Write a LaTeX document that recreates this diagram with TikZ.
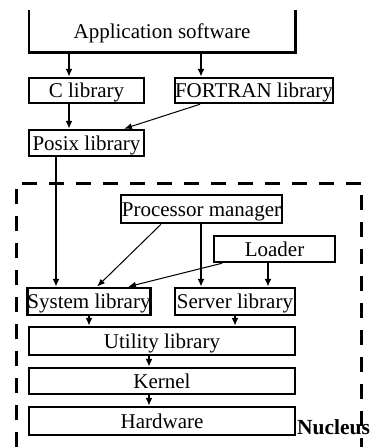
\documentclass[tikz,border=0pt]{standalone}
\usepackage{fontspec}
\setmainfont{Liberation Serif}
\usetikzlibrary{arrows.meta}
\begin{document}
\begin{tikzpicture}[x=1pt,y=-1pt,
  box/.style={draw,line width=2.5pt,inner sep=0pt,text height=14pt,text depth=0pt,
    font=\fontsize{21}{24}\selectfont},
  arr/.style={line width=2.3pt,-{Latex[length=8pt,width=7pt]}},
  thinarr/.style={line width=1pt,-{Latex[length=8pt,width=6pt]}},
  frame/.style={line width=3pt,dash pattern=on 15pt off 12pt}]
\useasboundingbox (0,0) rectangle (371,447);

% application layer (open at the top)
\node[box,draw=none,minimum width=264pt,minimum height=40pt] (app) at (162,31) {Application software};
\draw[line width=2.5pt] (app.north west) -- (app.south west) -- (app.south east) -- (app.north east);

% libraries above the nucleus
\node[box,minimum width=115pt,minimum height=25pt] (clib) at (86.5,90.5) {C library};
\node[box,minimum width=158pt,minimum height=25pt] (flib) at (254,90.5) {FORTRAN library};
\node[box,minimum width=115pt,minimum height=26pt] (posix) at (86.5,143) {Posix library};

% nucleus boundary
\draw[frame] (16,447) -- (16,183) -- (361,183) -- (361,447);
\node[anchor=base west,inner sep=0pt,font=\fontsize{21.5}{24}\selectfont\bfseries] (nucleus) at (297,434) {Nucleus};

% nucleus components
\node[box,minimum width=161pt,minimum height=28pt] (pm) at (201.5,209) {Processor manager};
\node[box,minimum width=121pt,minimum height=26pt] (loader) at (274.5,249) {Loader};
\node[box,minimum width=120pt,minimum height=27pt] (syslib) at (89,301.5) {System library};
\node[box,minimum width=120pt,minimum height=27pt] (srvlib) at (235,301.5) {Server library};
\node[box,minimum width=266pt,minimum height=28pt] (util) at (162,341) {Utility library};
\node[box,minimum width=266pt,minimum height=26pt] (kernel) at (162,381) {Kernel};
\node[box,minimum width=266pt,minimum height=28pt] (hw) at (162,421) {Hardware};

% connectors
\draw[arr] (app.south -| 69,0) -- (clib.north -| 69,0);
\draw[arr] (app.south -| 201,0) -- (flib.north -| 201,0);
\draw[arr] (clib.south -| 69,0) -- (posix.north -| 69,0);
\draw[thinarr] (flib.south -| 200,0) -- (posix.north -| 124,0);
\draw[arr] (posix.south -| 56,0) -- (syslib.north -| 56,0);
\draw[thinarr] (pm.south -| 161,0) -- (syslib.north -| 97,0);
\draw[arr] (pm.south -| 201,0) -- (srvlib.north -| 201,0);
\draw[thinarr] (loader.south -| 222,0) -- (syslib.north -| 128,0);
\draw[arr] (loader.south -| 268,0) -- (srvlib.north -| 268,0);
\draw[arr] (syslib.south) -- (util.north -| syslib.south);
\draw[arr] (srvlib.south) -- (util.north -| srvlib.south);
\draw[arr] (util.south -| 149,0) -- (kernel.north -| 149,0);
\draw[arr] (kernel.south -| 149,0) -- (hw.north -| 149,0);
\end{tikzpicture}
\end{document}
